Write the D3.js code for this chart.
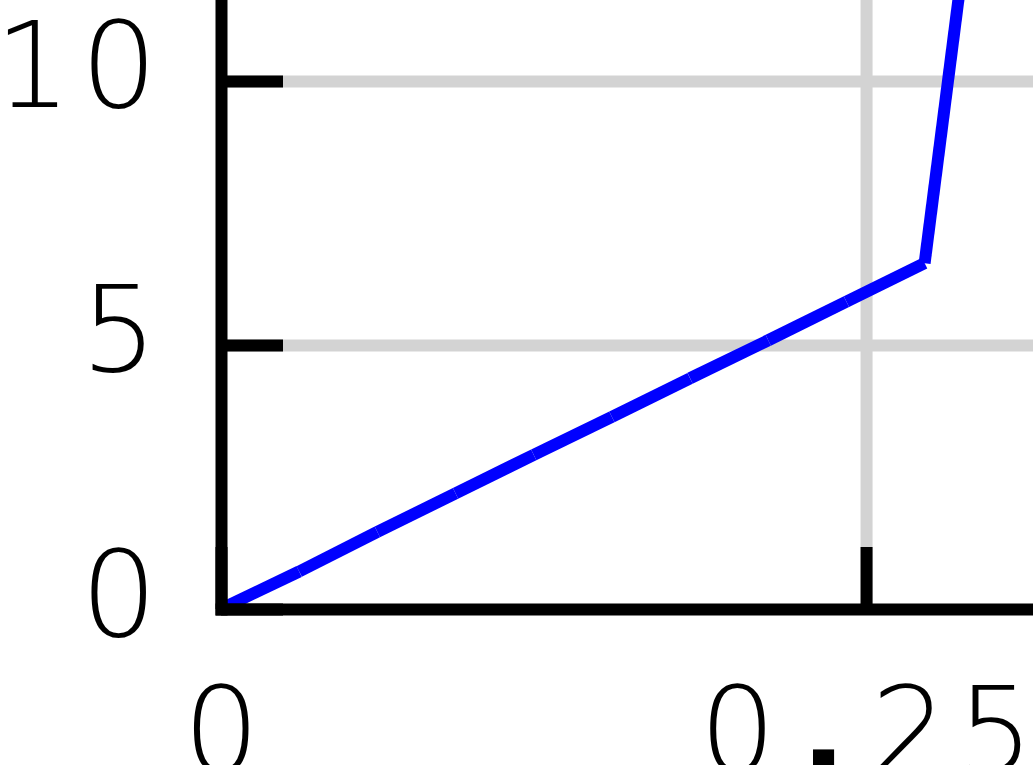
<!DOCTYPE html>
<html>
<head>
<meta charset="utf-8">
<script src="https://cdn.jsdelivr.net/npm/d3@7"></script>
<style>
  html, body { margin: 0; padding: 0; background: #fff; overflow: hidden; }
  svg { display: block; }
</style>
</head>
<body>
<div id="chart"></div>
<script>
// data
var xValues = [0, 0.0303, 0.0606, 0.0909, 0.1212, 0.1515, 0.1818, 0.2121, 0.2424, 0.2727, 0.3030];
var yValues = [0, 0.71, 1.46, 2.19, 2.92, 3.64, 4.37, 5.09, 5.82, 6.55, 18.1];
var xTicks = [0, 0.25];
var xTickLabels = ['0', '0.25'];
var yTicks = [0, 5, 10];
var yTickLabels = ['0', '5', '10'];

var width = 1033, height = 765;
var ox = 221, oy = 609;           // where the two axes meet
var tickLen = 62;
var fontFamily = '"DejaVu Sans", sans-serif';
var fontSize = 120;
var cell = 86;                    // labels are set on a fixed pitch

// the view is a crop: domains run on past the last tick up to the picture edge
var x = d3.scaleLinear().domain([0, 0.3147]).range([ox, width]);
var y = d3.scaleLinear().domain([0, 11.534]).range([oy, 0]);

var svg = d3.select('#chart')
            .append('svg')
            .attr('width', width)
            .attr('height', height);

svg.append('rect')
   .attr('width', width)
   .attr('height', height)
   .attr('fill', '#fff');

// Step 1: grid lines
var gridX = svg.append('g')
               .attr('class', 'grid')
               .attr('transform', 'translate(0,' + oy + ')')
               .call(d3.axisBottom(x).tickValues(xTicks.filter(function(d) { return d > 0; }))
                       .tickSize(-oy).tickFormat(''));
var gridY = svg.append('g')
               .attr('class', 'grid')
               .attr('transform', 'translate(' + ox + ',0)')
               .call(d3.axisLeft(y).tickValues(yTicks.filter(function(d) { return d > 0; }))
                       .tickSize(-(width - ox)).tickFormat(''));
svg.selectAll('.grid .domain').remove();
svg.selectAll('.grid .tick text').remove();
svg.selectAll('.grid .tick line')
   .attr('stroke', '#d3d3d3')
   .attr('stroke-width', 12);

// Step 2: the blue line, one segment at a time
var points = xValues.map(function(d, i) { return [d, yValues[i]]; });
var pairs = d3.pairs(points);
var line = d3.line()
             .x(function(d) { return x(d[0]); })
             .y(function(d) { return y(d[1]); });

svg.append('g')
   .selectAll('path')
   .data(pairs)
   .join('path')
   .attr('d', line)
   .attr('fill', 'none')
   .attr('stroke', '#0000ff')
   .attr('stroke-width', 12)
   .attr('stroke-linecap', 'butt');

// Step 3: axes with inward ticks
var xAxis = svg.append('g')
               .attr('transform', 'translate(0,' + oy + ')')
               .call(d3.axisBottom(x).tickValues(xTicks)
                       .tickFormat(function(d, i) { return xTickLabels[i]; })
                       .tickSize(-tickLen).tickSizeOuter(0).tickPadding(163));

var yAxis = svg.append('g')
               .attr('transform', 'translate(' + ox + ',0)')
               .call(d3.axisLeft(y).tickValues(yTicks)
                       .tickFormat(function(d, i) { return yTickLabels[i]; })
                       .tickSize(-tickLen).tickSizeOuter(0).tickPadding(59));

[xAxis, yAxis].forEach(function(ax) {
  ax.attr('font-family', null).attr('font-size', null);
  ax.select('.domain')
    .attr('stroke', '#000')
    .attr('stroke-width', 12)
    .attr('stroke-linecap', 'square');
  ax.selectAll('.tick line')
    .attr('stroke', '#000')
    .attr('stroke-width', 12);
  ax.selectAll('.tick text')
    .attr('fill', '#000')
    .attr('font-family', fontFamily)
    .attr('font-size', fontSize)
    .attr('font-weight', 200)
    .attr('dy', 0);
});
yAxis.selectAll('.tick text').attr('dy', 26);

// spread each label over fixed-width cells, one tspan per character
function monospace(sel, anchor) {
  sel.each(function() {
    var t = d3.select(this);
    var s = t.text();
    var x0 = +t.attr('x') || 0;
    var n = s.length;
    t.text(null).attr('text-anchor', 'middle');
    s.split('').forEach(function(ch, i) {
      var cx = anchor === 'end' ? x0 - (n - i - 0.5) * cell : x0 + (i - (n - 1) / 2) * cell;
      t.append('tspan')
       .attr('x', cx)
       .attr('font-weight', ch === '.' ? 700 : null)
       .text(ch);
    });
  });
}
monospace(xAxis.selectAll('.tick text'), 'middle');
monospace(yAxis.selectAll('.tick text'), 'end');
</script>
</body>
</html>
